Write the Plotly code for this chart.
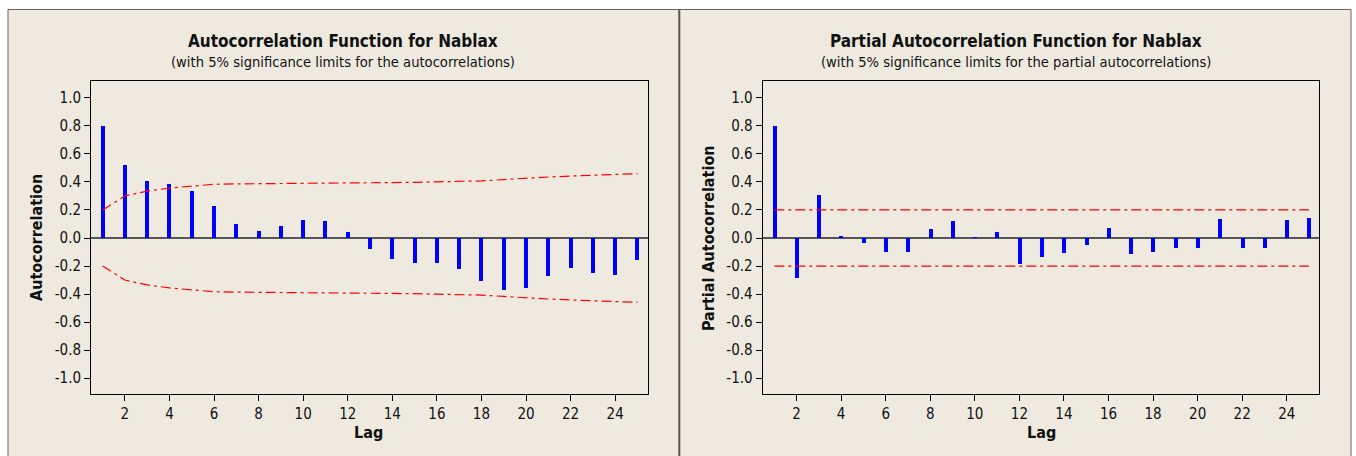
import plotly.graph_objects as go

W, H = 1356, 456

lags = list(range(1, 26))
acf = [0.80, 0.52, 0.41, 0.385, 0.335, 0.23, 0.10, 0.05, 0.085, 0.128, 0.12, 0.043,
       -0.08, -0.152, -0.18, -0.18, -0.223, -0.307, -0.37, -0.355, -0.27, -0.214,
       -0.248, -0.264, -0.155]
acf_limit = [0.20, 0.30, 0.335, 0.356, 0.37, 0.383, 0.386, 0.387, 0.387, 0.388, 0.391,
             0.393, 0.393, 0.395, 0.397, 0.401, 0.404, 0.407, 0.417, 0.428, 0.435,
             0.442, 0.448, 0.453, 0.459]
pacf = [0.80, -0.288, 0.305, 0.014, -0.038, -0.098, -0.098, 0.062, 0.119, 0.007, 0.043,
        -0.188, -0.138, -0.105, -0.048, 0.071, -0.112, -0.098, -0.074, -0.074, 0.136,
        -0.074, -0.071, 0.129, 0.145]
pacf_limit = [0.20] * 25

y_ticks = [-1.0, -0.8, -0.6, -0.4, -0.2, 0.0, 0.2, 0.4, 0.6, 0.8, 1.0]
x_ticks = [2, 4, 6, 8, 10, 12, 14, 16, 18, 20, 22, 24]

FONT = "Liberation Sans Narrow, Arial Narrow, DejaVu Sans Condensed, Roboto, sans-serif"
BEIGE = "#EEEAE0"
BAR = "#0000FF"
RED = "#FF0000"
DASH = "10px,4px,3px,4px"

def px(x):
    return x / W

def py(y):
    return 1 - y / H

fig = go.Figure()

for i, (vals, lim) in enumerate([(acf, acf_limit), (pacf, pacf_limit)]):
    xa = "x" if i == 0 else "x2"
    ya = "y" if i == 0 else "y2"
    fig.add_trace(go.Bar(x=lags, y=vals, width=0.18, marker=dict(color=BAR, line=dict(width=0)),
                         xaxis=xa, yaxis=ya, showlegend=False))
    fig.add_trace(go.Scatter(x=lags, y=lim, mode="lines", line=dict(color=RED, width=1.2, dash=DASH),
                             xaxis=xa, yaxis=ya, showlegend=False))
    fig.add_trace(go.Scatter(x=lags, y=[-v for v in lim], mode="lines",
                             line=dict(color=RED, width=1.2, dash=DASH),
                             xaxis=xa, yaxis=ya, showlegend=False))

xcommon = dict(range=[0.48, 25.46], tickvals=x_ticks, ticks="outside", ticklen=6, tickcolor="black",
               showline=True, linecolor="black", linewidth=1, mirror=True, showgrid=False, zeroline=False,
               tickfont=dict(family=FONT, size=15, color="#111"))
ycommon = dict(range=[-1.115, 1.12], tickvals=y_ticks, ticktext=[f"{v:.1f}" for v in y_ticks],
               ticks="outside", ticklen=6, tickcolor="black",
               showline=True, linecolor="black", linewidth=1, mirror=True, showgrid=False,
               zeroline=True, zerolinecolor="#555555", zerolinewidth=1.5,
               tickfont=dict(family=FONT, size=15, color="#111"),
               domain=[py(394.3), py(81)])

fig.update_layout(
    width=W, height=H, autosize=False,
    margin=dict(l=0, r=0, t=0, b=0),
    paper_bgcolor="white", plot_bgcolor="white",
    bargap=0,
    xaxis=dict(domain=[px(91), px(647.7)], anchor="y", **xcommon),
    yaxis=dict(anchor="x", **ycommon),
    xaxis2=dict(domain=[px(762.7), px(1319.3)], anchor="y2", **xcommon),
    yaxis2=dict(anchor="x2", **ycommon),
)

shapes = [
    dict(type="rect", xref="paper", yref="paper", x0=px(8), x1=px(1351), y0=py(470), y1=py(9.5),
         fillcolor=BEIGE, line=dict(color="#666666", width=1), layer="below"),
    dict(type="line", xref="paper", yref="paper", x0=px(679.3), x1=px(679.3), y0=py(470), y1=py(9.5),
         line=dict(color="#555555", width=2), layer="below"),
]
fig.update_layout(shapes=shapes)

ann = []
titles = [("Autocorrelation Function for Nablax", "(with 5% significance limits for the autocorrelations)",
           "Autocorrelation", 343.5, 37, 369),
          ("Partial Autocorrelation Function for Nablax",
           "(with 5% significance limits for the partial autocorrelations)",
           "Partial Autocorrelation", 1015.5, 709, 1041)]
for t, s, yl, cx, ylx, lagx in titles:
    ann.append(dict(text=f"<b>{t}</b>", x=px(cx), y=py(41), xref="paper", yref="paper",
                    showarrow=False, xanchor="center", yanchor="middle",
                    font=dict(family=FONT, size=17, color="#111")))
    ann.append(dict(text=s, x=px(cx), y=py(61.5), xref="paper", yref="paper",
                    showarrow=False, xanchor="center", yanchor="middle",
                    font=dict(family=FONT, size=14.6, color="#111")))
    ann.append(dict(text=f"<b>{yl}</b>", x=px(ylx), y=py(238), xref="paper", yref="paper",
                    showarrow=False, xanchor="center", yanchor="middle", textangle=-90,
                    font=dict(family=FONT, size=16, color="#111")))
    ann.append(dict(text="<b>Lag</b>", x=px(lagx), y=py(432), xref="paper", yref="paper",
                    showarrow=False, xanchor="center", yanchor="middle",
                    font=dict(family=FONT, size=16, color="#111")))
fig.update_layout(annotations=ann)

fig.write_html("out.html", config={"displayModeBar": False},
               post_script="document.body.style.margin='0px';document.body.style.overflow='hidden';")
